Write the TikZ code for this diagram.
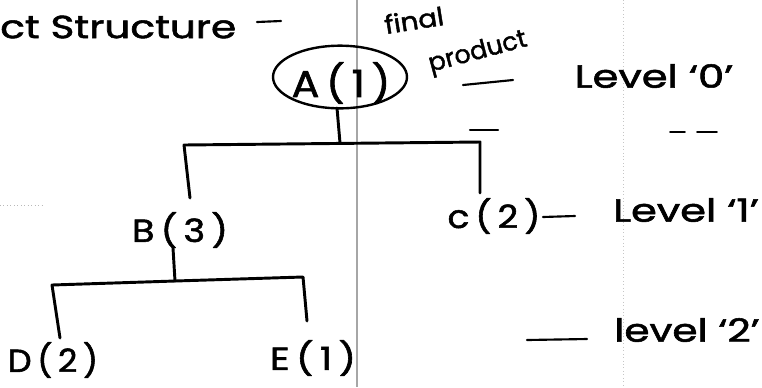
\documentclass[tikz,border=0pt]{standalone}
\usepackage{fontspec}
\setmainfont{Poppins}[FakeBold=1.6]
\usepackage{graphicx}
\usetikzlibrary{shapes.geometric}
\newcommand\hstretch[2]{\scalebox{#1}[1]{#2}}
\begin{document}
\begin{tikzpicture}[x=0.75pt,y=-0.75pt,
  treeline/.style={line width=2.2pt, line cap=round, line join=round},
  markline/.style={line width=1.6pt, line cap=round},
  txt/.style={inner sep=0pt, font=\fontsize{24}{24}\selectfont},
  bigtxt/.style={inner sep=0pt, font=\fontsize{28}{28}\selectfont},
  smalltxt/.style={inner sep=0pt, font=\fontsize{19}{19}\selectfont}]
\useasboundingbox (0,0) rectangle (762,387);
% page fold line and faint rulings
\draw[gray!70, line width=0.8pt] (357,0) -- (357,387);
\draw[gray!45, line width=0.6pt, dotted] (623,0) -- (623,387);
\draw[gray!55, line width=0.6pt, dotted] (0,205) -- (45,205);
% title
\node[txt, anchor=west] (title) at (0,27) {\hstretch{1.27}{ct Structure}};
\coordinate (td1) at (257,22);
\coordinate (td2) at (281,21);
\draw[markline] (td1) -- (td2);
% root
\node[bigtxt] (A) at (341,83) {\hstretch{1.1}{A\,(\,1\,)}};
\node[draw, ellipse, line width=1.8pt, minimum width=100.5pt, minimum height=47pt] (Aring) at (340,77) {};
\node[smalltxt, rotate=9] (final) at (414,20) {\hstretch{1.1}{final}};
\node[smalltxt, rotate=15] (product) at (478,53) {product};
\coordinate (d0a) at (463,85);
\coordinate (d0b) at (513,80);
\draw[markline] (d0a) -- (d0b);
\node[txt] (L0) at (654,76) {\hstretch{1.3}{Level ‘0’}};
\coordinate (m1) at (470,130);
\coordinate (m2) at (498,130);
\draw[markline] (m1) -- (m2);
\coordinate (m3) at (670,132);
\coordinate (m4) at (685,132);
\coordinate (m5) at (697,132);
\coordinate (m6) at (717,132);
\draw[markline, line width=1.2pt] (m3) -- (m4) (m5) -- (m6);
% level 1
\coordinate (Astem) at (337,108);
\coordinate (jA) at (340,143);
\coordinate (barL1) at (184,145);
\coordinate (barR1) at (480,142);
\coordinate (Btop) at (190,198);
\coordinate (Ctop) at (480,193);
\draw[treeline] (Astem) -- (jA);
\draw[treeline] (Btop) -- (barL1) -- (barR1) -- (Ctop);
\node[txt] (B) at (180,230) {\hstretch{1.15}{B\,(\,3\,)}};
\node[txt] (C) at (494,216) {\hstretch{1.12}{c\,(\,2\,)}};
\coordinate (d1a) at (543,217);
\coordinate (d1b) at (575,216);
\draw[markline] (d1a) -- (d1b);
\node[txt] (L1) at (686,210) {\hstretch{1.3}{Level ‘1’}};
% level 2
\coordinate (Bstem) at (173,248);
\coordinate (jB) at (175,281);
\coordinate (barL2) at (52,285);
\coordinate (barR2) at (303,277);
\coordinate (Dtop) at (60,338);
\coordinate (Etop) at (307,321);
\draw[treeline] (Bstem) -- (jB);
\draw[treeline] (Dtop) -- (barL2) -- (jB) -- (barR2) -- (Etop);
\node[txt] (D) at (53,360) {\hstretch{1.05}{D\,(\,2\,)}};
\node[txt] (E) at (313,358) {\hstretch{1.2}{E\,(\,1\,)}};
\coordinate (d2a) at (527,340);
\coordinate (d2b) at (587,339);
\draw[markline] (d2a) -- (d2b);
\node[txt] (L2) at (687,330) {\hstretch{1.27}{level ‘2’}};
\end{tikzpicture}
\end{document}
